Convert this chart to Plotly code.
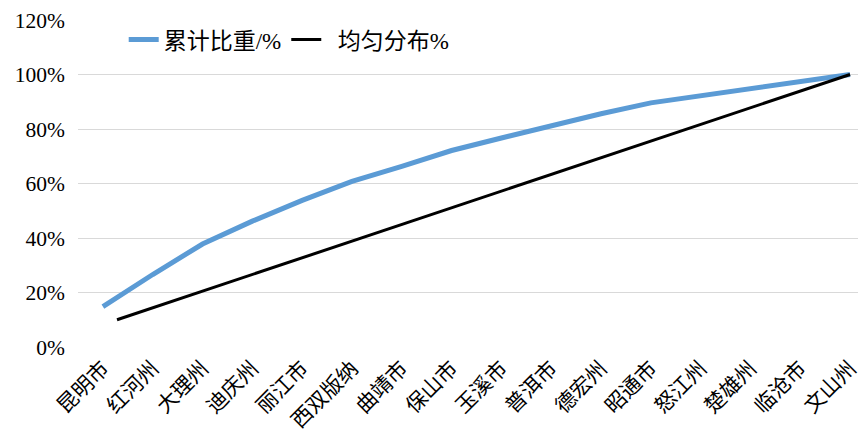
import plotly.graph_objects as go

categories = ["昆明市", "红河州", "大理州", "迪庆州", "丽江市", "西双版纳", "曲靖市", "保山市",
              "玉溪市", "普洱市", "德宏州", "昭通市", "怒江州", "楚雄州", "临沧市", "文山州"]
cumulative = [0.148, 0.266, 0.378, 0.462, 0.538, 0.608, 0.663, 0.721,
              0.767, 0.812, 0.856, 0.896, 0.923, 0.949, 0.975, 1.000]
uniform = [0.1, 0.2, 0.3, 0.4, 0.5, 0.6, 0.7, 0.8, 0.9, 1.0]
y_ticks = [0, 0.2, 0.4, 0.6, 0.8, 1.0, 1.2]

FONT = "Liberation Serif, Times New Roman, Noto Sans CJK SC"

fig = go.Figure()
fig.add_trace(go.Scatter(
    x=list(range(len(categories))), y=cumulative, mode="lines", name="累计比重/%",
    line=dict(color="#5B9BD5", width=5), xaxis="x", yaxis="y"))
fig.add_trace(go.Scatter(
    x=uniform, y=uniform, mode="lines", name="\u00a0\u00a0均匀分布%",
    line=dict(color="#000000", width=3), xaxis="x2", yaxis="y"))

# page body has an 8px margin, so the figure is sized to the visible area
fig.update_layout(
    width=858, height=439,
    margin=dict(l=70, r=0, t=12, b=100),
    paper_bgcolor="white", plot_bgcolor="white",
    font=dict(family=FONT, size=21, color="#000000"),
    showlegend=True,
    legend=dict(orientation="h", x=0.058, y=0.94, xanchor="left", yanchor="middle",
                font=dict(family=FONT, size=23), bgcolor="rgba(0,0,0,0)",
                itemwidth=30, tracegroupgap=0),
    xaxis=dict(
        tickmode="array", tickvals=list(range(len(categories))), ticktext=categories,
        range=[-0.5, 15.32], tickangle=-45, showgrid=False, zeroline=False,
        showline=False, ticks="", automargin=False, ticklabelstandoff=4,
        tickfont=dict(family=FONT, size=21)),
    xaxis2=dict(overlaying="x", range=[0.0521, 1.0196], visible=False, showgrid=False,
                automargin=False),
    yaxis=dict(
        range=[0, 1.2], tickvals=y_ticks, tickformat=".0%", showgrid=True,
        gridcolor="#D9D9D9", gridwidth=1, zeroline=False, showline=False, ticks="",
        automargin=False, ticklabelstandoff=12, tickfont=dict(family=FONT, size=21.5)),
)

fig.write_html("out.html")
